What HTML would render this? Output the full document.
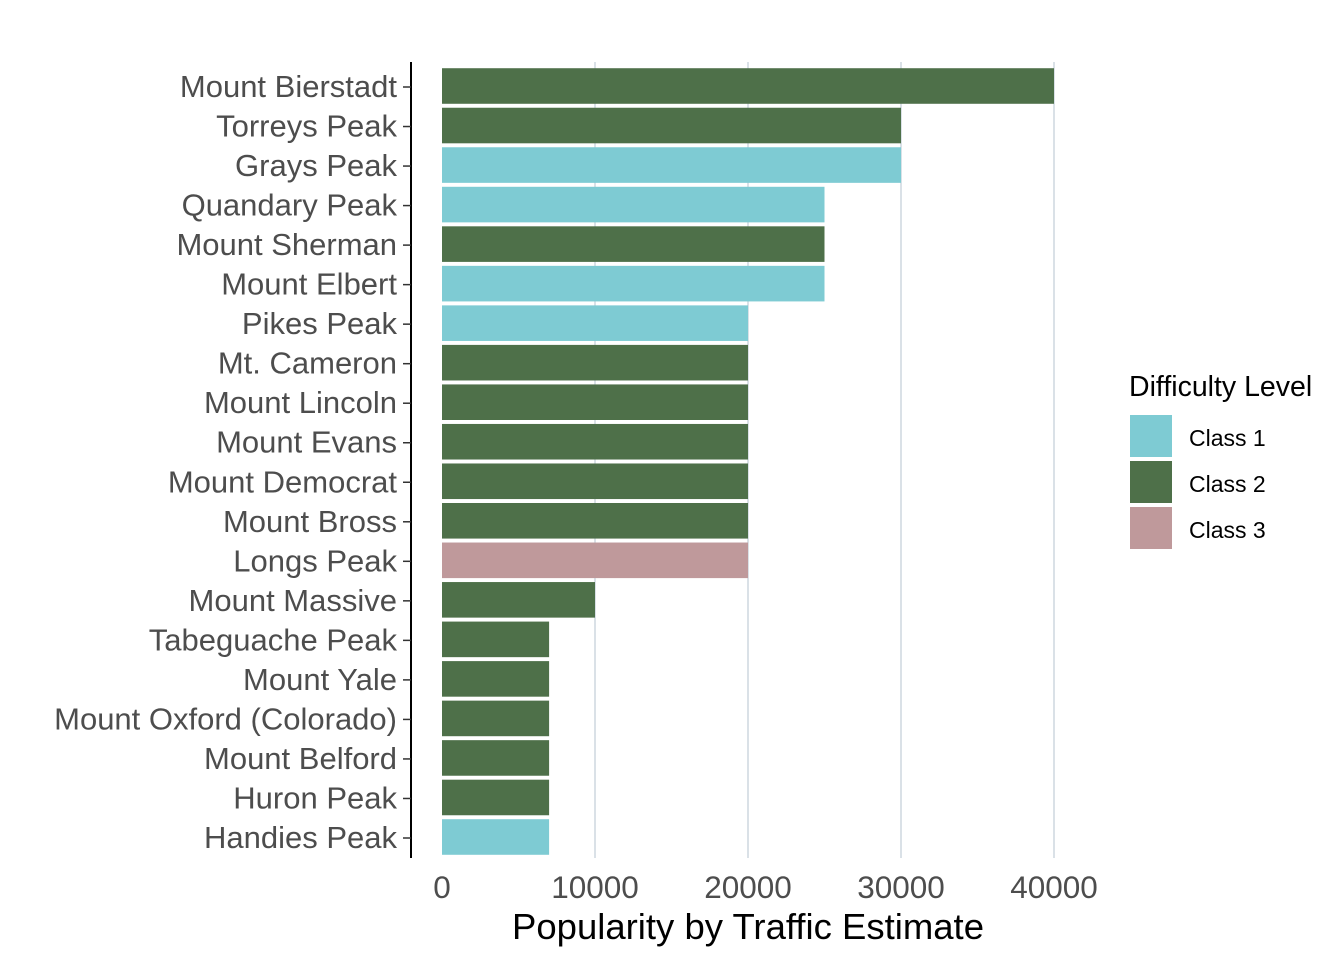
<!DOCTYPE html>
<html><head><meta charset="utf-8"><style>
body{margin:0;background:#fff;}
svg text{font-family:"Liberation Sans",Arial,sans-serif;}
</style></head><body>
<svg width="1344" height="960" xmlns="http://www.w3.org/2000/svg">
<g id="grid"></g>
<g id="bars"></g>
<line x1="411" y1="62" x2="411" y2="858" stroke="#000" stroke-width="2"/>
<g id="yaxis"></g>
<g id="xaxis"></g>
<text x="748" y="939" font-size="36.5" text-anchor="middle" fill="#000">Popularity by Traffic Estimate</text>
<g>
<text x="1129" y="396" font-size="28.5" fill="#000">Difficulty Level</text>
<rect x="1130" y="415" width="42" height="42" fill="#7ecbd3"/>
<text x="1189" y="446" font-size="23" fill="#000">Class 1</text>
<rect x="1130" y="461" width="42" height="42" fill="#4e7049"/>
<text x="1189" y="492" font-size="23" fill="#000">Class 2</text>
<rect x="1130" y="507" width="42" height="42" fill="#bf999b"/>
<text x="1189" y="538" font-size="23" fill="#000">Class 3</text>
</g>
</svg>
<script>
const peaks=["Mount Bierstadt","Torreys Peak","Grays Peak","Quandary Peak","Mount Sherman","Mount Elbert","Pikes Peak","Mt. Cameron","Mount Lincoln","Mount Evans","Mount Democrat","Mount Bross","Longs Peak","Mount Massive","Tabeguache Peak","Mount Yale","Mount Oxford (Colorado)","Mount Belford","Huron Peak","Handies Peak"];
const traffic=[40000,30000,30000,25000,25000,25000,20000,20000,20000,20000,20000,20000,20000,10000,7000,7000,7000,7000,7000,7000];
const classes=[2,2,1,1,2,1,1,2,2,2,2,2,3,2,2,2,2,2,2,1];
const xTicks=[0,10000,20000,30000,40000];
const colors={1:"#7ecbd3",2:"#4e7049",3:"#bf999b"};
const NS="http://www.w3.org/2000/svg";
const x=v=>442+v*(1054-442)/40000;
const step=(838-87)/19;
const y=i=>86+i*step;
const bw=step*0.9;
const grid=document.getElementById('grid'),bars=document.getElementById('bars'),ya=document.getElementById('yaxis'),xa=document.getElementById('xaxis');
function mk(t,a,p){const e=document.createElementNS(NS,t);for(const k in a)e.setAttribute(k,a[k]);p.appendChild(e);return e;}
xTicks.forEach(v=>{
 if(v>0){const l=mk('line',{x1:x(v),x2:x(v),y1:62,y2:858,stroke:"#b4c3cf","stroke-width":1},grid);
 
 }
 const t=mk('text',{x:x(v),y:898,"font-size":31.5,"text-anchor":"middle",fill:"#4d4d4d"},xa);t.textContent=v;
 
 
});
peaks.forEach((p,i)=>{
 const r=mk('rect',{x:x(0),y:y(i)-bw/2,width:x(traffic[i])-x(0),height:bw,fill:colors[classes[i]]},bars);
 
 
 const tk=mk('line',{x1:403,x2:411,y1:y(i)+1,y2:y(i)+1,stroke:"#333","stroke-width":1.5},ya);
 
 
 const t=mk('text',{x:397,y:y(i)+11,"font-size":31,"text-anchor":"end",fill:"#4d4d4d"},ya);t.textContent=p;
 
 
});
</script>
</body></html>
